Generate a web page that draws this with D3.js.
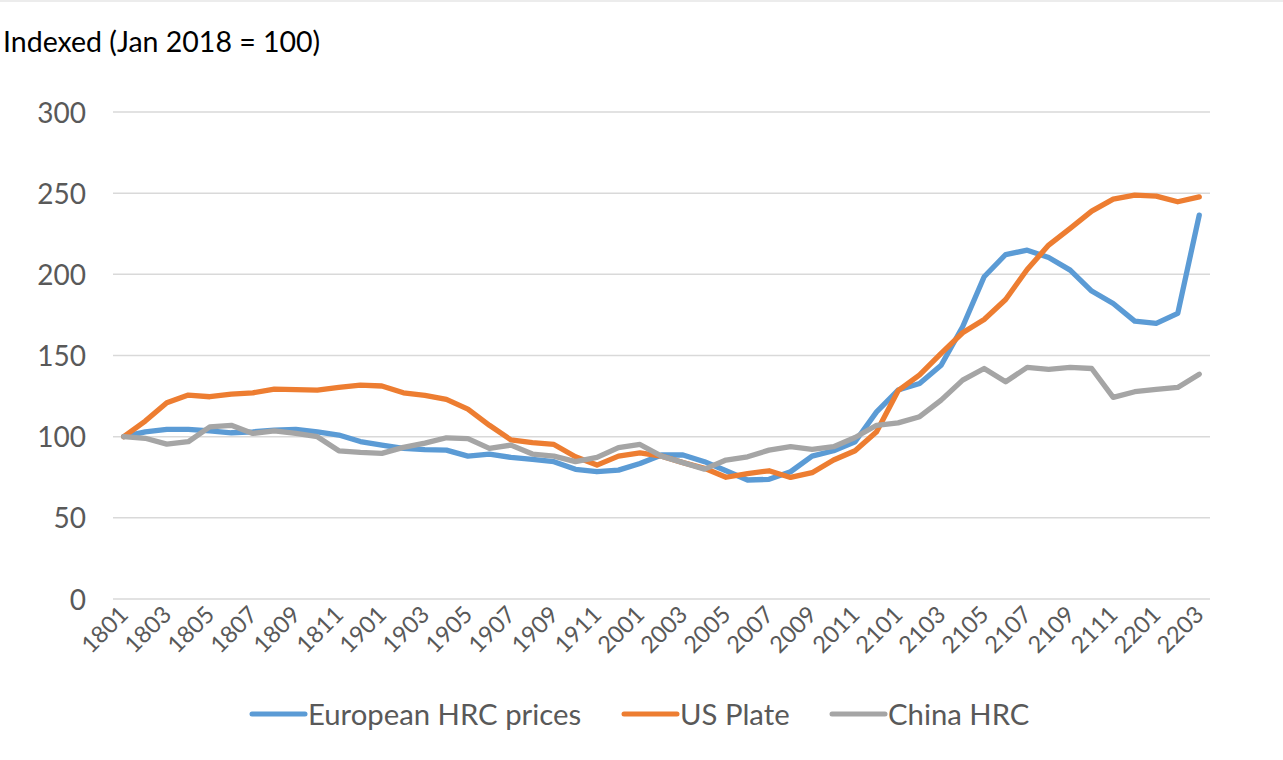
<!DOCTYPE html>
<html>
<head>
  <meta charset="utf-8">
  <title>Indexed steel prices</title>
  <style>
    body { margin: 0; background: #fff; }
    text { font-family: Lato, "Open Sans", sans-serif; }
  </style>
</head>
<body>
<script src="https://cdnjs.cloudflare.com/ajax/libs/d3/7.8.5/d3.min.js"></script>
<div id="vis"></div>
<script>

var months = [
  "1801","1802","1803","1804","1805","1806","1807","1808","1809","1810","1811","1812",
  "1901","1902","1903","1904","1905","1906","1907","1908","1909","1910","1911","1912",
  "2001","2002","2003","2004","2005","2006","2007","2008","2009","2010","2011","2012",
  "2101","2102","2103","2104","2105","2106","2107","2108","2109","2110","2111","2112",
  "2201","2202","2203"
];

var europeanHRC = [
  100,103,104.5,104.5,103.6,102.4,103,104,104.5,103,101,
  97,94.8,92.8,92,91.7,88,89.3,87.2,86,84.6,
  79.9,78.4,79.4,83.5,88.7,88.7,84.6,79,73.3,73.7,
  78.4,88,91.3,96.9,115.3,128.7,132.8,144,167.7,198.5,
  212.2,214.9,210.4,202.6,189.7,182,171.2,169.8,175.9,236.5
];

var usPlate = [
  100,109.6,120.9,125.6,124.6,126.2,127,129.3,129,128.7,130.3,
  131.8,131.2,127,125.5,123,117,107,98,96.3,95.2,
  87.6,82.5,88,90,88,84,80.5,75,77.3,79,
  74.9,77.8,85.6,91.3,103,128.3,138,151.3,164,172.2,
  184.5,203,218,228.3,238.9,246.3,248.8,248.2,244.7,247.7
];

var chinaHRC = [
  100,99,95.4,96.9,106,107,102,103.6,102,100,91.3,
  90.3,89.7,93.4,96,99.3,98.8,92.8,94.8,89.3,88,
  84.6,87.2,93.2,95.2,88,84,80,85.6,87.6,91.7,
  93.8,92.2,93.8,99.5,107,108.5,112.3,122.5,134.8,142,
  133.8,142.7,141.4,142.7,142,124.2,127.7,129.1,130.3,138.5
];

var yTicks = [0, 50, 100, 150, 200, 250, 300];

var seriesNames = ["European HRC prices", "US Plate", "China HRC"];
var seriesColors = ["#5B9BD5", "#ED7D31", "#A5A5A5"];
var series = [europeanHRC, usPlate, chinaHRC];

var W = 1283, H = 760;

var svg = d3.select("#vis").append("svg")
  .attr("width", W)
  .attr("height", H);

// faint frame line along the top edge
svg.append("rect")
  .attr("x", 0).attr("y", 0)
  .attr("width", W).attr("height", 2)
  .attr("fill", "#ececec");

var x = d3.scaleBand()
  .domain(months)
  .range([113, 1210])
  .paddingInner(0)
  .paddingOuter(0);

var y = d3.scaleLinear()
  .domain([0, 300])
  .range([599, 112]);

function cx(m) { return x(m) + x.bandwidth() / 2; }

// title
svg.append("text")
  .attr("x", 3)
  .attr("y", 52)
  .style("font-size", "28.5px")
  .style("fill", "#000")
  .text("Indexed (Jan 2018 = 100)");

// gridlines
svg.append("g").selectAll("line").data(yTicks).enter().append("line")
  .attr("x1", x.range()[0])
  .attr("x2", x.range()[1])
  .attr("y1", function(d) { return y(d); })
  .attr("y2", function(d) { return y(d); })
  .attr("stroke", "#d9d9d9")
  .attr("stroke-width", 1.5);

// y axis labels
var yAxis = d3.axisLeft(y).tickValues(yTicks).tickSize(0).tickPadding(0);
var gy = svg.append("g").attr("transform", "translate(86,0)").call(yAxis);
gy.select(".domain").remove();
gy.selectAll("text")
  .style("font-size", "28px")
  .style("font-family", "Lato, 'Open Sans', sans-serif")
  .attr("fill", "#595959")
  .attr("dy", "0.36em");

// x axis labels (every other month)
var xAxis = d3.axisBottom(x)
  .tickValues(months.filter(function(d, i) { return i % 2 === 0; }))
  .tickSize(0);
var gx = svg.append("g").attr("transform", "translate(0,599)").call(xAxis);
gx.select(".domain").remove();
gx.selectAll("text")
  .style("font-size", "23.5px")
  .style("font-family", "Lato, 'Open Sans', sans-serif")
  .attr("fill", "#595959")
  .attr("text-anchor", "end")
  .attr("dy", null)
  .attr("y", 0)
  .attr("transform", "translate(6,17) rotate(-45)");

// lines
var line = d3.line()
  .x(function(d, i) { return cx(months[i]); })
  .y(function(d) { return y(d); });

svg.append("g").selectAll("path").data(series).enter().append("path")
  .attr("d", function(d) { return line(d); })
  .attr("fill", "none")
  .attr("stroke", function(d, i) { return seriesColors[i]; })
  .attr("stroke-width", 5.3)
  .attr("stroke-linejoin", "round")
  .attr("stroke-linecap", "round");

// legend
var legendX = [250, 622, 830];
var lg = svg.append("g").selectAll("g").data(seriesNames).enter().append("g")
  .attr("transform", function(d, i) { return "translate(" + legendX[i] + ",714)"; });

lg.append("line")
  .attr("x1", 2).attr("x2", 55)
  .attr("y1", 0).attr("y2", 0)
  .attr("stroke", function(d, i) { return seriesColors[i]; })
  .attr("stroke-width", 5)
  .attr("stroke-linecap", "round");

lg.append("text")
  .attr("x", 58)
  .attr("y", 0)
  .attr("dy", "0.36em")
  .style("font-size", "29.3px")
  .style("fill", "#595959")
  .text(function(d) { return d; });

</script>
</body>
</html>
